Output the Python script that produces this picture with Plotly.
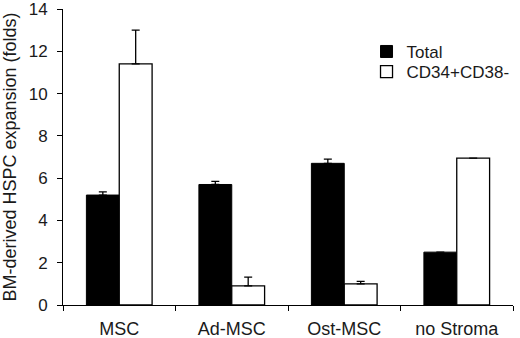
import plotly.graph_objects as go

categories = ["MSC", "Ad-MSC", "Ost-MSC", "no Stroma"]
total_vals = [5.2, 5.7, 6.7, 2.5]
total_err = [0.15, 0.15, 0.2, 0.0]
cd34_vals = [11.4, 0.9, 1.0, 6.95]
cd34_err = [1.6, 0.42, 0.12, 0.0]
y_ticks = [0, 2, 4, 6, 8, 10, 12, 14]

FONT = "Liberation Sans, Arial, sans-serif"

fig = go.Figure()
fig.add_trace(go.Bar(
    name="Total", x=categories, y=total_vals, legend="legend",
    marker=dict(color="black", line=dict(color="black", width=1)),
    error_y=dict(type="data", symmetric=False, array=total_err,
                 arrayminus=[0]*len(total_err), color="black", thickness=1.3, width=4),
))
fig.add_trace(go.Bar(
    name="CD34+CD38-", x=categories, y=cd34_vals, legend="legend2",
    marker=dict(color="white", line=dict(color="black", width=1.3)),
    error_y=dict(type="data", symmetric=False, array=cd34_err,
                 arrayminus=[0]*len(cd34_err), color="black", thickness=1.3, width=4),
))

leg_common = dict(xanchor="left", yanchor="middle", bgcolor="rgba(0,0,0,0)",
                  font=dict(size=17))
fig.update_layout(
    width=520, height=338,
    margin=dict(l=63, r=6, t=9, b=33),
    paper_bgcolor="white", plot_bgcolor="white",
    barmode="group", bargap=0.416, bargroupgap=0,
    font=dict(family=FONT, size=17, color="#1a1a1a"),
    showlegend=True,
    legend=dict(x=0.673, y=0.855, **leg_common),
    legend2=dict(x=0.673, y=0.787, **leg_common),
)
fig.update_xaxes(
    showline=True, linecolor="black", linewidth=1, automargin=False,
    ticks="outside", tickson="boundaries", ticklen=5, tickcolor="black",
    showgrid=False, tickfont=dict(size=18), ticklabelstandoff=7,
)
fig.update_yaxes(
    range=[0, 14], tickvals=y_ticks, showline=True, linecolor="black", linewidth=1,
    automargin=False,
    ticks="outside", ticklen=5, tickcolor="black", showgrid=False, zeroline=False,
    tickfont=dict(size=17), ticklabelstandoff=6, ticklabeloverflow="allow",
    title=dict(text="BM-derived HSPC expansion (folds)", font=dict(size=18), standoff=10),
)

# remove the browser's default 8px page margin so the figure fills the window
fig.write_html("out.html", config={"displayModeBar": False},
               post_script="document.body.style.margin='0px';")
